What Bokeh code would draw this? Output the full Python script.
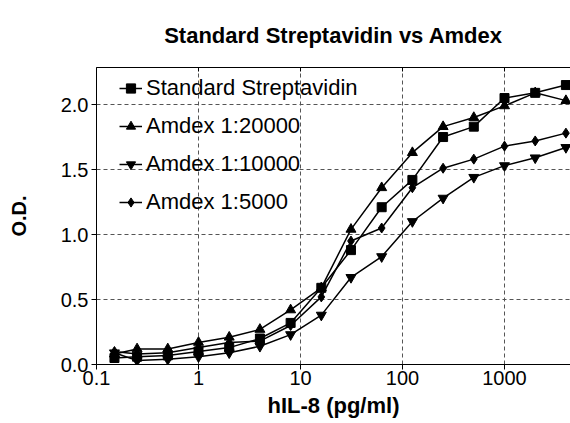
from bokeh.plotting import figure
from bokeh.models import (LogAxis, FixedTicker, CustomJSTickFormatter, Range1d,
                          Legend, LegendItem, NumeralTickFormatter)
from bokeh.embed import file_html
from bokeh.resources import INLINE

# ---- data ----
conc = [0.15, 0.25, 0.5, 1, 2, 4, 8, 16, 31.25, 62.5, 125, 250, 500, 1000, 2000, 4000]
standard = [0.05, 0.06, 0.07, 0.10, 0.13, 0.20, 0.32, 0.59, 0.88, 1.21, 1.42, 1.75, 1.83, 2.05, 2.09, 2.15]
amdex_20000 = [0.08, 0.12, 0.12, 0.17, 0.21, 0.27, 0.42, 0.59, 1.04, 1.36, 1.63, 1.83, 1.90, 1.99, 2.09, 2.03]
amdex_10000 = [0.09, 0.03, 0.04, 0.06, 0.09, 0.14, 0.23, 0.38, 0.67, 0.83, 1.10, 1.28, 1.44, 1.53, 1.59, 1.67]
amdex_5000 = [0.10, 0.08, 0.09, 0.13, 0.17, 0.18, 0.30, 0.52, 0.95, 1.05, 1.36, 1.51, 1.58, 1.68, 1.72, 1.78]
series_names = ["Standard Streptavidin", "Amdex 1:20000", "Amdex 1:10000", "Amdex 1:5000"]
x_ticks = [0.1, 1, 10, 100, 1000]
y_ticks = [0.0, 0.5, 1.0, 1.5, 2.0]

FONT = "Liberation Sans"

p = figure(width=570, height=423, x_axis_type="log",
           x_range=Range1d(0.1, 4436), y_range=Range1d(0, 2.285),
           output_backend="svg", toolbar_location=None,
           min_border_left=96, min_border_right=0, min_border_top=67,
           min_border_bottom=59)
p.outline_line_color = None
p.background_fill_color = "white"

p.title.text = "Standard Streptavidin vs Amdex"
p.title.align = "center"
p.title.vertical_align = "top"
p.title.text_font = FONT
p.title.text_font_size = "22px"
p.title.text_font_style = "bold"
p.title.text_color = "black"
p.title.standoff = 36

fmt = CustomJSTickFormatter(code="return String(tick);")

xa = p.xaxis[0]
xa.ticker = FixedTicker(ticks=x_ticks)
xa.formatter = fmt
xa.axis_label = "hIL-8 (pg/ml)"
ya = p.yaxis[0]
ya.ticker = FixedTicker(ticks=y_ticks)
ya.axis_label = "O.D."
ya.formatter = NumeralTickFormatter(format="0.0")

for ax in (xa, ya):
    ax.axis_label_text_font = FONT
    ax.axis_label_text_font_style = "bold"
    ax.axis_label_text_color = "black"
    ax.major_label_text_font = FONT
    ax.major_label_text_font_size = "20px"
    ax.major_label_text_color = "black"
    ax.axis_line_color = "black"
    ax.major_tick_line_color = "black"
    ax.major_tick_out = 5
    ax.major_tick_in = 0
    ax.minor_tick_line_color = None
xa.axis_label_text_font_size = "22px"
ya.axis_label_text_font_size = "20px"
xa.major_label_standoff = 1
xa.axis_label_standoff = 5
ya.major_label_standoff = 3
ya.axis_label_standoff = 28

top = LogAxis(ticker=FixedTicker(ticks=x_ticks),
              formatter=CustomJSTickFormatter(code="return '';"))
top.major_label_text_color = None
top.major_label_standoff = 0
top.major_tick_in = 4
top.major_tick_out = 0
top.minor_tick_line_color = None
top.axis_line_color = "black"
top.major_tick_line_color = "black"
p.add_layout(top, "above")

p.xgrid.ticker = FixedTicker(ticks=x_ticks)
p.ygrid.ticker = FixedTicker(ticks=y_ticks)
for g in (p.xgrid[0], p.ygrid[0]):
    g.grid_line_color = "#555555"
    g.grid_line_dash = "4 3"
    g.grid_line_width = 1

specs = [(standard, "square", 9), (amdex_20000, "triangle", 10),
         (amdex_10000, "inverted_triangle", 10), (amdex_5000, "diamond", 10)]
items = []
for name, (vals, marker, size) in zip(series_names, specs):
    r1 = p.line(conc, vals, line_color="black", line_width=1.5)
    r2 = p.scatter(conc, vals, marker=marker, size=size, fill_color="black",
                   line_color="black")
    items.append(LegendItem(label=name, renderers=[r1, r2]))

legend = Legend(items=items, location=(23, 143))
legend.border_line_color = None
legend.background_fill_alpha = 0
legend.padding = 0
legend.margin = 0
legend.spacing = 0
legend.glyph_width = 23
legend.glyph_height = 38
legend.label_height = 38
legend.label_standoff = 4
legend.label_text_font = FONT
legend.label_text_font_size = "22px"
legend.label_text_color = "black"
p.add_layout(legend, "center")

open("out.html", "w").write(file_html(p, INLINE))
